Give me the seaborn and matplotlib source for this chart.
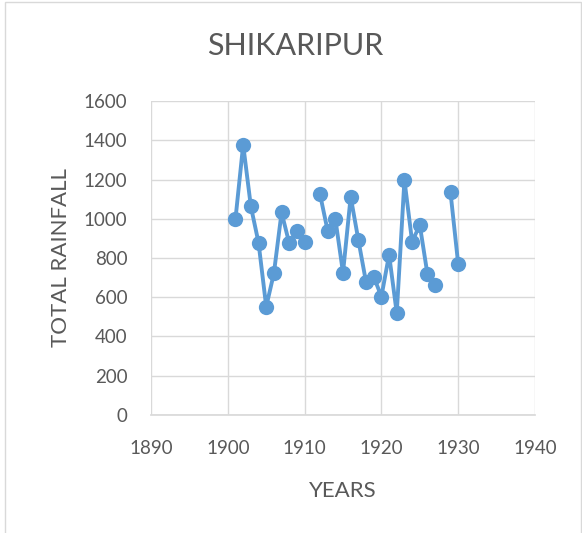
import numpy as np
import pandas as pd
import seaborn as sns
import matplotlib.pyplot as plt
from matplotlib.patches import Rectangle

sns.set_theme(style="white")
plt.rcParams['font.family'] = ['Lato', 'DejaVu Sans']

# data (1911 and 1928 missing)
years = [1901, 1902, 1903, 1904, 1905, 1906, 1907, 1908, 1909, 1910,
         1912, 1913, 1914, 1915, 1916, 1917, 1918, 1919, 1920,
         1921, 1922, 1923, 1924, 1925, 1926, 1927,
         1929, 1930]
rainfall = [1000, 1377, 1063, 878, 552, 722, 1032, 875, 937, 881,
            1126, 939, 1000, 725, 1112, 892, 677, 705, 603,
            817, 519, 1197, 883, 968, 717, 661,
            1134, 770]
segment = [0] * 10 + [1] * 16 + [2] * 2

df = pd.DataFrame({"year": years, "rain": rainfall, "seg": segment})

BLUE = "#5B9BD5"
GREY = "#595959"
GRID = "#D9D9D9"

fig = plt.figure(figsize=(5.82, 5.33), dpi=100)
ax = fig.add_axes([0.2595, 0.2214, 0.9192 - 0.2595, 0.8105 - 0.2214])

sns.lineplot(data=df, x="year", y="rain", units="seg", estimator=None,
             color=BLUE, linewidth=2.8, marker="o", markersize=11,
             markeredgecolor=BLUE, markeredgewidth=0, ax=ax, zorder=3)

ax.set_xlim(1890, 1940)
ax.set_ylim(0, 1600)
ax.set_xticks(range(1890, 1941, 10))
ax.set_yticks(range(0, 1601, 200))
ax.grid(True, color=GRID, linewidth=1)
for s in ax.spines.values():
    s.set_visible(False)
ax.spines["bottom"].set_visible(True)
ax.spines["bottom"].set_color(GRID)
ax.tick_params(axis="both", length=0, labelsize=13.5, colors=GREY)
ax.tick_params(axis="y", pad=17)
ax.tick_params(axis="x", pad=18)

ax.set_xlabel("YEARS", fontsize=16, color=GREY, labelpad=17)
ax.set_ylabel("TOTAL RAINFALL", fontsize=16, color=GREY, labelpad=9)
fig.text(0.507, 0.914, "SHIKARIPUR", ha="center", va="center",
         fontsize=22, color=GREY)

fig.patches.append(Rectangle((0.009, -0.01), 0.99, 1.006, transform=fig.transFigure,
                             fill=False, edgecolor=GRID, linewidth=1))

fig.savefig("out.png", dpi=100)
